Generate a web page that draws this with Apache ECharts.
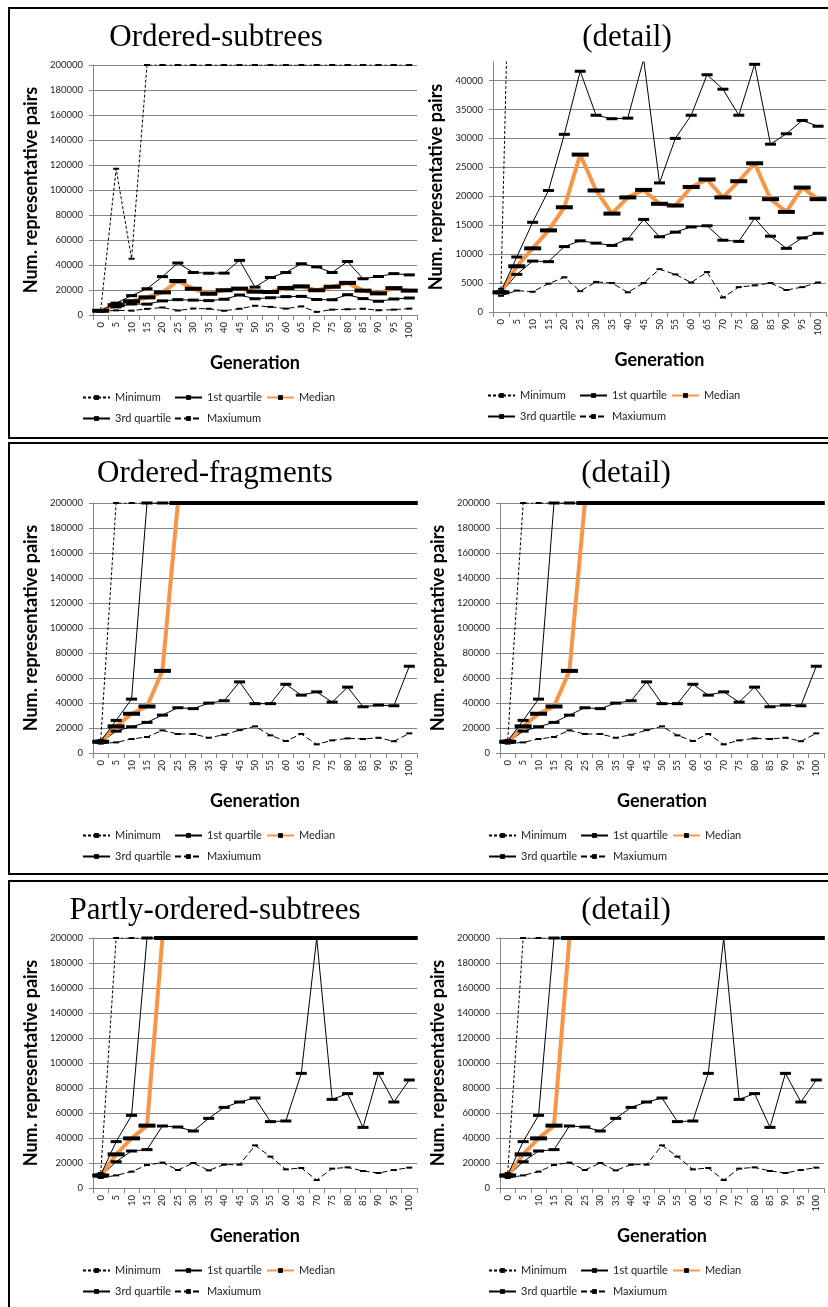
<!DOCTYPE html>
<html>
<head>
<meta charset="utf-8">
<script src="https://cdn.jsdelivr.net/npm/echarts@6/dist/echarts.min.js"></script>
<style>
  html, body { margin: 0; padding: 0; background: #fff; }
  #chart { width: 828px; height: 1307px; }
</style>
</head>
<body>
<div id="chart"></div>
<script>
// Generations sampled on the x axis
const generations = ['0','5','10','15','20','25','30','35','40','45','50','55','60','65','70','75','80','85','90','95','100'];

// Ordered-subtrees
const osMinimum  = [4000,117000,45000,200000,200000,200000,200000,200000,200000,200000,200000,200000,200000,200000,200000,200000,200000,200000,200000,200000,200000];
const osQ1       = [3300,6500,8800,8700,11300,12300,11900,11500,12600,16000,13000,13800,14700,14900,12400,12200,16200,13100,11000,12800,13600];
const osMedian   = [3400,7900,11000,14100,18100,27200,21000,17000,19800,21100,18700,18400,21600,22900,19800,22600,25700,19500,17300,21500,19500];
const osQ3       = [3500,9500,15500,21000,30700,41600,34000,33400,33500,43700,22300,30000,34000,41000,38500,34000,42800,29000,30800,33100,32100];
const osMaxiumum = [2800,3700,3500,4900,6000,3600,5200,5000,3400,5000,7400,6500,5100,6900,2500,4300,4600,5000,3800,4300,5100];

// Ordered-fragments
const ofMinimum  = [10500,200000,200000,200000,200000,200000,200000,200000,200000,200000,200000,200000,200000,200000,200000,200000,200000,200000,200000,200000,200000];
const ofQ1       = [8500,17500,21000,24500,30300,36200,35500,39900,41800,56900,39500,39500,55000,46300,48900,40700,52700,37000,38300,37800,69400];
const ofMedian   = [9000,21300,31400,37200,65700,200000,200000,200000,200000,200000,200000,200000,200000,200000,200000,200000,200000,200000,200000,200000,200000];
const ofQ3       = [9500,26100,43100,200000,200000,200000,200000,200000,200000,200000,200000,200000,200000,200000,200000,200000,200000,200000,200000,200000,200000];
const ofMaxiumum = [7500,8500,11200,12800,18100,15200,15200,12200,14600,18300,21300,14100,9600,15200,6900,10100,11700,11200,12200,9400,15700];

// Partly-ordered-subtrees
const poMinimum  = [12000,200000,200000,200000,200000,200000,200000,200000,200000,200000,200000,200000,200000,200000,200000,200000,200000,200000,200000,200000,200000];
const poQ1       = [9500,21000,29600,30700,49600,48800,45600,55700,64500,68800,72000,53100,53600,91700,200000,70900,75500,48500,91700,68800,86400];
const poMedian   = [10000,26900,39700,49900,200000,200000,200000,200000,200000,200000,200000,200000,200000,200000,200000,200000,200000,200000,200000,200000,200000];
const poQ3       = [10500,37100,58100,200000,200000,200000,200000,200000,200000,200000,200000,200000,200000,200000,200000,200000,200000,200000,200000,200000,200000];
const poMaxiumum = [8000,10100,13100,18400,20300,14400,20000,14100,18700,18700,34100,25100,14900,16000,6400,15500,16500,13600,12000,14400,16300];

const seriesNames = ['Minimum', '1st quartile', 'Median', '3rd quartile', 'Maxiumum'];
const datasets = {
  os: [osMinimum, osQ1, osMedian, osQ3, osMaxiumum],
  of: [ofMinimum, ofQ1, ofMedian, ofQ3, ofMaxiumum],
  po: [poMinimum, poQ1, poMedian, poQ3, poMaxiumum]
};

// Line / marker look of each statistic
const styles = [
  { line: { color: '#000', width: 1, type: [3, 2] }, marker: [6, 2] },
  { line: { color: '#000', width: 1 }, marker: [11, 3] },
  { line: { color: '#F79646', width: 4 }, marker: [17, 4] },
  { line: { color: '#000', width: 1 }, marker: [11, 3] },
  { line: { color: '#000', width: 1, type: [6, 3] }, marker: [6, 2] }
];

// Six plots: full view on the left, detail on the right of each panel
const plots = [
  { key: 'os', title: 'Ordered-subtrees', titleX: 216, titleTop: 22, grid: [93, 65, 324, 250], yMax: 200000, yStep: 20000, yGap: 53, legendX: 82, legendY: 399 },
  { key: 'os', title: '(detail)', titleX: 627, titleTop: 22, grid: [493, 62, 333, 250], yMax: 43200, yStep: 5000, yGap: 48, legendX: 487, legendY: 397 },
  { key: 'of', title: 'Ordered-fragments', titleX: 215, titleTop: 458, grid: [93, 503, 324, 250], yMax: 200000, yStep: 20000, yGap: 53, legendX: 82, legendY: 837 },
  { key: 'of', title: '(detail)', titleX: 626, titleTop: 458, grid: [500, 503, 324, 250], yMax: 200000, yStep: 20000, yGap: 53, legendX: 488, legendY: 837 },
  { key: 'po', title: 'Partly-ordered-subtrees', titleX: 215, titleTop: 895, grid: [93, 938, 324, 250], yMax: 200000, yStep: 20000, yGap: 53, legendX: 82, legendY: 1272 },
  { key: 'po', title: '(detail)', titleX: 626, titleTop: 895, grid: [500, 938, 324, 250], yMax: 200000, yStep: 20000, yGap: 53, legendX: 488, legendY: 1272 }
];

// Legend items: horizontal offset and row
const legendSlots = [[0, 0], [92, 0], [184, 0], [0, 1], [92, 1]];

const axisGray = '#868686';
const labelFont = { fontFamily: 'Lato', fontSize: 9.5, color: '#222' };
const nameFont = { fontFamily: 'Lato', fontSize: 18, fontWeight: 'bold', color: '#000' };

const option = {
  animation: false,
  backgroundColor: '#fff',
  textStyle: { fontFamily: 'Lato' },
  title: [], grid: [], xAxis: [], yAxis: [], legend: [], series: [],
  graphic: [
    { type: 'rect', shape: { x: 9, y: 8, width: 900, height: 430 }, style: { fill: null, stroke: '#000', lineWidth: 2 } },
    { type: 'rect', shape: { x: 9, y: 443, width: 900, height: 431 }, style: { fill: null, stroke: '#000', lineWidth: 2 } },
    { type: 'rect', shape: { x: 9, y: 881, width: 900, height: 500 }, style: { fill: null, stroke: '#000', lineWidth: 2 } }
  ]
};

plots.forEach((p, i) => {
  const [gl, gt, gw, gh] = p.grid;
  const exactTop = p.yMax % p.yStep === 0;

  option.title.push({
    text: p.title, left: p.titleX, top: p.titleTop, textAlign: 'center', padding: 0,
    textStyle: { fontFamily: 'Liberation Serif', fontSize: 31, fontWeight: 'normal', color: '#000', lineHeight: 31 }
  });

  option.grid.push({ left: gl, top: gt, width: gw, height: gh });

  option.xAxis.push({
    type: 'category', gridIndex: i, data: generations, boundaryGap: true,
    name: 'Generation', nameLocation: 'middle', nameGap: 39, nameTextStyle: nameFont,
    axisLine: { show: true, lineStyle: { color: axisGray, width: 1 } },
    axisTick: { show: true, length: 5, interval: 0, lineStyle: { color: axisGray } },
    axisLabel: Object.assign({ rotate: 90, interval: 0, margin: 7 }, labelFont),
    splitLine: { show: false }
  });

  option.yAxis.push({
    type: 'value', gridIndex: i, min: 0, max: p.yMax, interval: p.yStep,
    name: 'Num. representative pairs', nameLocation: 'middle', nameRotate: 90, nameGap: p.yGap, nameTextStyle: nameFont,
    axisLine: { show: true, lineStyle: { color: axisGray, width: 1 } },
    axisTick: { show: true, length: 4, lineStyle: { color: axisGray } },
    axisLabel: Object.assign({ margin: 10, showMaxLabel: exactTop, formatter: v => String(v) }, labelFont),
    splitLine: { show: true, showMaxLine: exactTop, lineStyle: { color: axisGray, width: 1 } }
  });

  datasets[p.key].forEach((values, k) => {
    option.series.push({
      name: seriesNames[k], type: 'line', xAxisIndex: i, yAxisIndex: i,
      data: values, clip: true, silent: true,
      symbol: 'rect', symbolSize: styles[k].marker, showSymbol: true, showAllSymbol: true,
      itemStyle: { color: '#000' },
      lineStyle: styles[k].line,
      emphasis: { disabled: true }
    });
  });

  legendSlots.forEach(([dx, row], k) => {
    option.legend.push({
      data: [seriesNames[k]], left: p.legendX + dx, top: p.legendY + row * 21 - 7,
      padding: 0, itemWidth: 27, itemHeight: 6, selectedMode: false,
      textStyle: { fontFamily: 'Lato', fontSize: 11, color: '#222' }
    });
  });
});

const chart = echarts.init(document.getElementById('chart'), null, { renderer: 'canvas' });
chart.setOption(option);
</script>
</body>
</html>
